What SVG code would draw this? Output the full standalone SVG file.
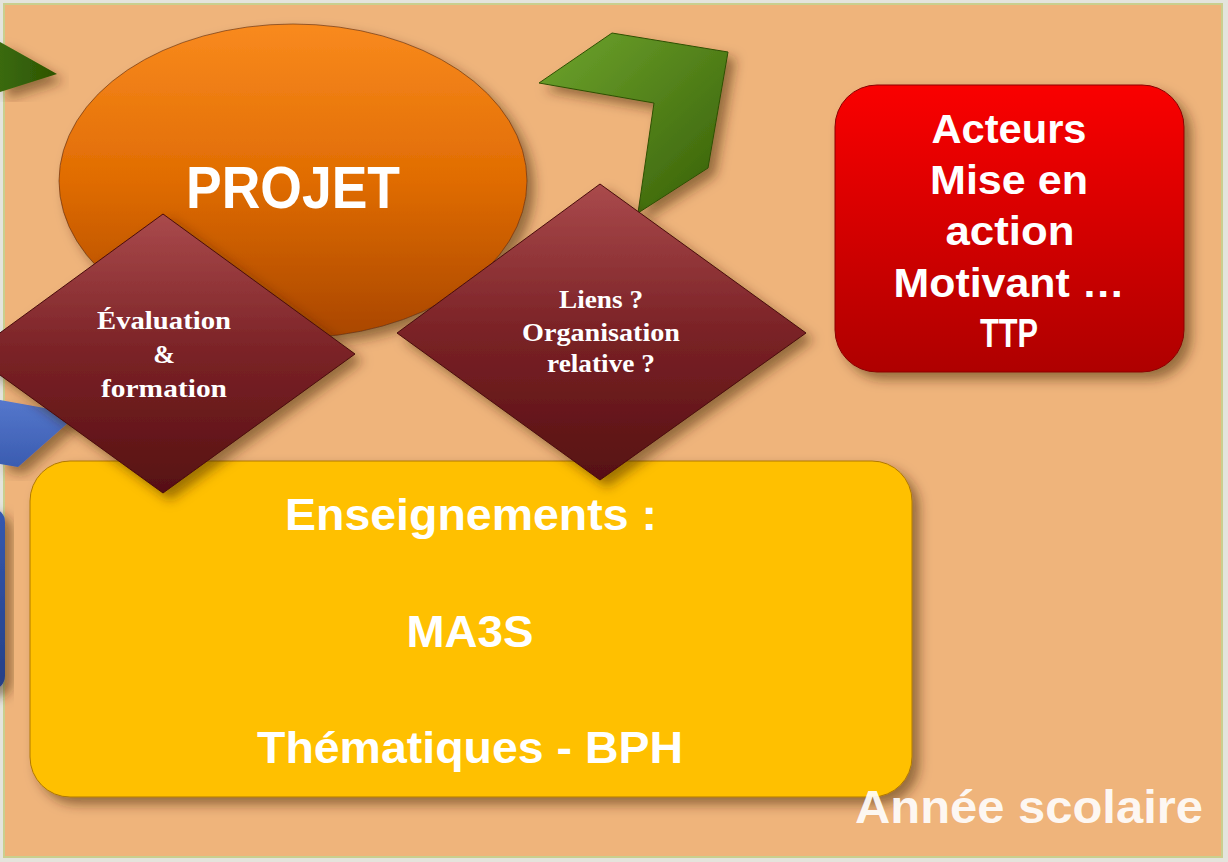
<svg xmlns="http://www.w3.org/2000/svg" width="1228" height="862" viewBox="0 0 1228 862">
<defs>
<linearGradient id="gOrange" x1="0" y1="0" x2="0" y2="1"><stop offset="0" stop-color="#F98A1E"/><stop offset="0.5" stop-color="#E06C02"/><stop offset="1" stop-color="#A94600"/></linearGradient>
<linearGradient id="gGreen" x1="0" y1="0" x2="1" y2="1"><stop offset="0" stop-color="#6FA52E"/><stop offset="1" stop-color="#365E06"/></linearGradient>
<linearGradient id="gGreen2" x1="0" y1="0" x2="1" y2="0"><stop offset="0" stop-color="#3A6A0A"/><stop offset="1" stop-color="#2E5404"/></linearGradient>
<linearGradient id="gRed" x1="0" y1="0" x2="0" y2="1"><stop offset="0" stop-color="#FA0000"/><stop offset="1" stop-color="#AE0000"/></linearGradient>
<linearGradient id="gWine" x1="0" y1="0" x2="0" y2="1"><stop offset="0" stop-color="#AA4A4C"/><stop offset="0.5" stop-color="#7A2226"/><stop offset="1" stop-color="#561012"/></linearGradient>
<linearGradient id="gBlue" x1="0" y1="0" x2="0" y2="1"><stop offset="0" stop-color="#5577CC"/><stop offset="1" stop-color="#3A5CB0"/></linearGradient>
<linearGradient id="gBlue2" x1="0" y1="0" x2="0" y2="1"><stop offset="0" stop-color="#3559B0"/><stop offset="1" stop-color="#243F86"/></linearGradient>
<filter id="shadow" x="-20%" y="-20%" width="140%" height="140%"><feDropShadow dx="7" dy="7" stdDeviation="6" flood-color="#3A2000" flood-opacity="0.5"/></filter>
</defs>
<style>
.sans{font-family:"Liberation Sans",Arial,sans-serif;font-weight:bold;fill:#FFFFFF;text-anchor:middle}
.serif{font-family:"Liberation Serif","Times New Roman",serif;font-weight:bold;fill:#FFFFFF;text-anchor:middle;font-size:26px}
.edge{stroke:#5A2A10;stroke-width:1;stroke-opacity:0.6}
</style>
<rect x="0" y="0" width="1228" height="862" fill="#E4E4DC"/>
<rect x="4" y="4" width="1218" height="853" fill="#EFB47B" stroke="#C9CF8E" stroke-width="2"/>

<g id="arrows">
<polygon points="0,42 57,74 0,92" fill="url(#gGreen2)" filter="url(#shadow)"/>
<polygon points="539,83 612,33 728,52 708,168 638,213 654,103" fill="url(#gGreen)" stroke="#2E5004" stroke-width="1" filter="url(#shadow)"/>
<polygon points="0,400 78,414 18,467 0,464" fill="url(#gBlue)" filter="url(#shadow)"/>
</g>

<g id="projet">
<ellipse cx="293" cy="181" rx="234" ry="157" fill="url(#gOrange)" class="edge" filter="url(#shadow)"/>
<text x="293" y="208" class="sans" font-size="60" textLength="214" lengthAdjust="spacingAndGlyphs">PROJET</text>
</g>

<g id="acteurs">
<rect x="835" y="85" width="349" height="287" rx="42" fill="url(#gRed)" stroke="#8A0000" stroke-width="1" filter="url(#shadow)"/>
<text x="1009" y="143" class="sans" font-size="40" textLength="155" lengthAdjust="spacingAndGlyphs">Acteurs</text>
<text x="1009" y="194" class="sans" font-size="40" textLength="158" lengthAdjust="spacingAndGlyphs">Mise en</text>
<text x="1010" y="245" class="sans" font-size="40" textLength="129" lengthAdjust="spacingAndGlyphs">action</text>
<text x="1009" y="297" class="sans" font-size="40" textLength="231" lengthAdjust="spacingAndGlyphs">Motivant …</text>
<text x="1009" y="347" class="sans" font-size="40" textLength="58" lengthAdjust="spacingAndGlyphs">TTP</text>
</g>

<g id="bleu">
<rect x="-40" y="508" width="45" height="182" rx="14" fill="url(#gBlue2)" filter="url(#shadow)"/>
</g>

<g id="enseignements">
<rect x="30" y="461" width="882" height="336" rx="40" fill="#FFC000" stroke="#B07800" stroke-width="1" filter="url(#shadow)"/>
<text x="471" y="530" class="sans" font-size="44" textLength="372" lengthAdjust="spacingAndGlyphs">Enseignements :</text>
<text x="470" y="647" class="sans" font-size="44" textLength="127" lengthAdjust="spacingAndGlyphs">MA3S</text>
<text x="470" y="763" class="sans" font-size="44" textLength="426" lengthAdjust="spacingAndGlyphs">Thématiques - BPH</text>
</g>

<g id="evaluation">
<polygon points="163,214 355,354 163,493 -29,354" fill="url(#gWine)" stroke="#4A0C0C" stroke-width="1" filter="url(#shadow)"/>
<text x="164" y="329" class="serif" textLength="134" lengthAdjust="spacingAndGlyphs">Évaluation</text>
<text x="164" y="363" class="serif">&amp;</text>
<text x="164" y="397" class="serif" textLength="126" lengthAdjust="spacingAndGlyphs">formation</text>
</g>

<g id="liens">
<polygon points="600,184 806,333 600,480 397,333" fill="url(#gWine)" stroke="#4A0C0C" stroke-width="1" filter="url(#shadow)"/>
<text x="601" y="308" class="serif" textLength="84" lengthAdjust="spacingAndGlyphs">Liens ?</text>
<text x="601" y="341" class="serif" textLength="158" lengthAdjust="spacingAndGlyphs">Organisation</text>
<text x="601" y="372" class="serif" textLength="108" lengthAdjust="spacingAndGlyphs">relative ?</text>
</g>

<g id="annee">
<text x="1029" y="823" class="sans" font-size="46" fill-opacity="0.92" textLength="348" lengthAdjust="spacingAndGlyphs">Année scolaire</text>
</g>
</svg>
